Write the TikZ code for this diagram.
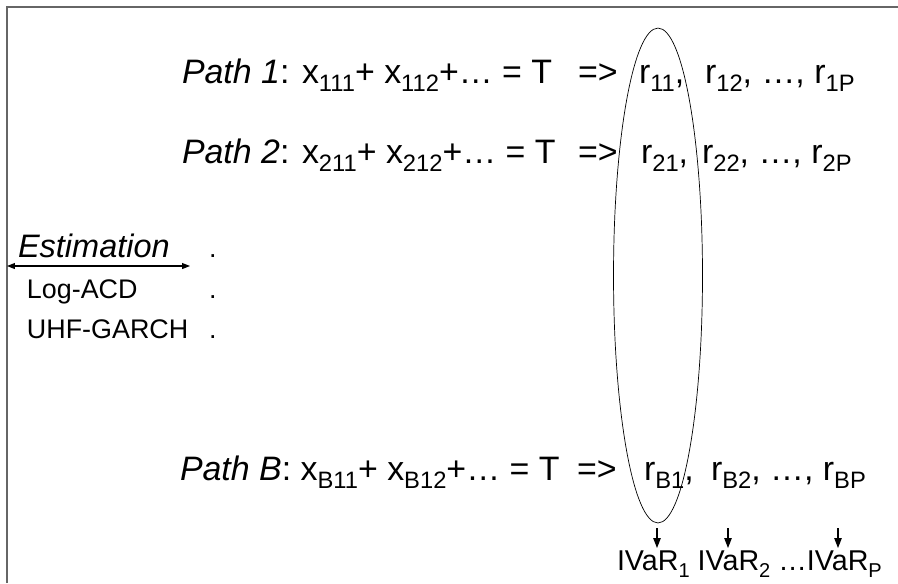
\documentclass[tikz,border=0pt]{standalone}
\usepackage{fontspec}
\setmainfont{Liberation Sans}
\usetikzlibrary{shapes.geometric,arrows.meta}

\newcommand{\lowsub}[1]{\raisebox{-0.26em}{\scalebox{0.7}{#1}}}

\begin{document}
\begin{tikzpicture}[x=0.02cm,y=-0.02cm]

\tikzset{
  path text/.style={
    inner sep=0pt,
    outer sep=0pt,
    font=\fontsize{19.3}{23}\selectfont,
  },
  side text/.style={
    inner sep=0pt,
    outer sep=0pt,
    font=\fontsize{15.3}{18}\selectfont,
  },
  down arrow/.style={-{Triangle[length=0.2cm,width=0.15cm]}, line width=0.6pt},
  both arrow/.style={{Triangle[length=0.16cm,width=0.12cm]}-{Triangle[length=0.16cm,width=0.12cm]}, line width=0.6pt}
}

\useasboundingbox (0,0) rectangle (898,583);

% Frame
\draw[black!60, line width=0.04cm] (7,583) -- (7,7) -- (898,7);

% Path 1
\node[path text, anchor=base west] (p1) at (182,83) {\textit{Path 1}: x\lowsub{111}+ x\lowsub{112}+\ldots{} = T};
\node[path text, anchor=base west] (g1) at (578,83) {=>};
\node[path text, anchor=base west] (r11) at (639,83) {r\lowsub{11},};
\node[path text, anchor=base west] (r12) at (705,83) {r\lowsub{12}, \ldots, r\lowsub{1P}};

% Path 2
\node[path text, anchor=base west] (p2) at (182,163) {\textit{Path 2}: x\lowsub{211}+ x\lowsub{212}+\ldots{} = T};
\node[path text, anchor=base west] (g2) at (578,163) {=>};
\node[path text, anchor=base west] (r21) at (641,163) {r\lowsub{21},};
\node[path text, anchor=base west] (r22) at (702,163) {r\lowsub{22}, \ldots, r\lowsub{2P}};

% Path B
\node[path text, anchor=base west] (pB) at (180,480) {\textit{Path B}: x\lowsub{B11}+ x\lowsub{B12}+\ldots{} = T};
\node[path text, anchor=base west] (gB) at (577,480) {=>};
\node[path text, anchor=base west] (rB1) at (644,480) {r\lowsub{B1},};
\node[path text, anchor=base west] (rB2) at (711,480) {r\lowsub{B2}, \ldots, r\lowsub{BP}};

% Column of first returns
\node[draw, ellipse, inner sep=0pt, minimum width=1.78cm, minimum height=9.9cm] (col) at (658,275.5) {};

% Estimation
\node[path text, font=\fontsize{18.5}{22}\selectfont, anchor=base west] (est) at (18,257) {\textit{Estimation}};
\coordinate (estl) at (7,266);
\coordinate (estr) at (190,266);
\draw[both arrow] (estl) -- (estr);
\node[side text, anchor=base west] (acd) at (27,298) {Log-ACD};
\node[side text, anchor=base west] (uhf) at (27,338) {UHF-GARCH};
\node[side text, anchor=base west] (dot1) at (209,257) {.};
\node[side text, anchor=base west] (dot2) at (209,298) {.};
\node[side text, anchor=base west] (dot3) at (209,338) {.};

% IVaR
\node[side text, font=\fontsize{16.3}{19}\selectfont, anchor=base west] (ivar) at (617,570) {IVaR\lowsub{1} IVaR\lowsub{2} \ldots IVaR\lowsub{P}};

\coordinate (a1) at (657,528);
\coordinate (b1) at (657,548);
\coordinate (a2) at (728,528);
\coordinate (b2) at (728,548);
\coordinate (a3) at (838,528);
\coordinate (b3) at (838,548);
\draw[down arrow] (a1) -- (b1);
\draw[down arrow] (a2) -- (b2);
\draw[down arrow] (a3) -- (b3);

\end{tikzpicture}
\end{document}
